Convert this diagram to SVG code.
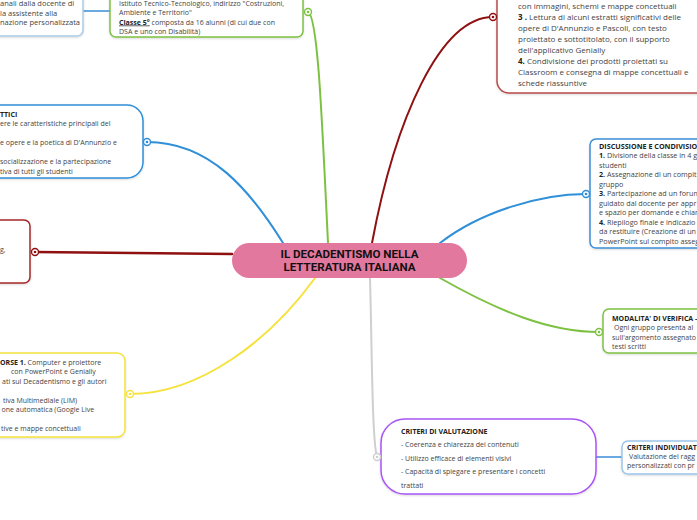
<svg xmlns="http://www.w3.org/2000/svg" width="697" height="520" viewBox="0 0 697 520">
<defs>
<filter id="sh" x="-10%" y="-10%" width="120%" height="130%">
<feDropShadow dx="0" dy="1" stdDeviation="1" flood-color="#000" flood-opacity="0.15"/>
</filter>
</defs>
<style>
.t{font-family:"Open Sans","Noto Sans","DejaVu Sans",sans-serif;font-size:7px;fill:#444}
.b{font-weight:bold;fill:#222}
.box{fill:#fff;stroke-width:1.5;filter:url(#sh)}
.c{fill:none;stroke-linecap:round}
.ring{fill:#fff;stroke-width:1.4}
</style>
<rect width="697" height="520" fill="#fff"/>

<g id="connectors">
<path class="c" d="M83,11 L110,11" stroke="#3a8fd6" stroke-width="1.5"/>
<path class="c" d="M328,243 C322,120 318,16 308,12" stroke="#7dc142" stroke-width="2"/>
<path class="c" d="M372,243 C395,120 440,17 493,17" stroke="#8e1010" stroke-width="2"/>
<path class="c" d="M283,243 C250,190 210,142 147,142" stroke="#2f8fd8" stroke-width="2"/>
<path class="c" d="M440,243 C480,212 540,194 586,194" stroke="#2f8fd8" stroke-width="2"/>
<path class="c" d="M232,254 L35,252" stroke="#8e1010" stroke-width="2.5"/>
<path class="c" d="M315,278 C270,340 200,394 130,394" stroke="#f5e23c" stroke-width="2"/>
<path class="c" d="M440,278 C500,312 550,332 599,332" stroke="#7dc142" stroke-width="2"/>
<path class="c" d="M370,278 C372,350 372,440 377,457" stroke="#cfcfcf" stroke-width="2"/>
<path class="c" d="M596,457 L622,457" stroke="#3a8fd6" stroke-width="1.5"/>
</g>

<g id="node-topleft">
<rect class="box" x="-20" y="-20" width="103" height="56" rx="6" stroke="#a9cbe8"/>
<text class="t" style="font-size:7.5px"><tspan x="0" y="6">anali dalla docente di</tspan><tspan x="0" y="15.5">la assistente alla</tspan><tspan x="0" y="25">nazione personalizzata</tspan></text>
</g>

<g id="node-context">
<rect class="box" x="110" y="-20" width="193" height="57" rx="6" stroke="#7dc142"/>
<text class="t"><tspan x="119" y="5.5">Istituto Tecnico-Tecnologico, indirizzo "Costruzioni,</tspan><tspan x="119" y="15">Ambiente e Territorio"</tspan><tspan x="119" y="24.5"><tspan class="b" text-decoration="underline">Classe 5°</tspan> composta da 16 alunni (di cui due con</tspan><tspan x="119" y="34">DSA e uno con Disabilità)</tspan></text>
<circle class="ring" cx="308" cy="12" r="3.5" stroke="#7dc142"/><circle cx="308" cy="12" r="1.3" fill="#7dc142"/>
</g>

<g id="node-metodologia">
<rect class="box" x="497" y="-20" width="230" height="113" rx="12" stroke="#b94a4a"/>
<text class="t" style="font-size:8px"><tspan x="518" y="8.5">con immagini, schemi e mappe concettuali</tspan><tspan x="518" y="19.5"><tspan class="b">3 .</tspan> Lettura di alcuni estratti significativi delle</tspan><tspan x="518" y="30.5">opere di D'Annunzio e Pascoli, con testo</tspan><tspan x="518" y="41.5">proiettato e sottotitolato, con il supporto</tspan><tspan x="518" y="52.5">dell'applicativo Genially</tspan><tspan x="518" y="63.5"><tspan class="b">4.</tspan> Condivisione dei prodotti proiettati su</tspan><tspan x="518" y="74.5">Classroom e consegna di mappe concettuali e</tspan><tspan x="518" y="85.5">schede riassuntive</tspan></text>
<circle class="ring" cx="493" cy="17" r="3.5" stroke="#8e1010"/><circle cx="493" cy="17" r="1.3" fill="#8e1010"/>
</g>

<g id="node-obiettivi">
<rect class="box" x="-40" y="105" width="183" height="73" rx="16" stroke="#2f8fd8"/>
<text class="t"><tspan x="0" y="116.5" class="b">TTICI</tspan><tspan x="0" y="126">ere le caratteristiche principali del</tspan><tspan x="0" y="145">e opere e la poetica di D'Annunzio e</tspan><tspan x="0" y="164">socializzazione e la partecipazione</tspan><tspan x="0" y="173.5">tiva di tutti gli studenti</tspan></text>
<circle class="ring" cx="147" cy="142" r="3.5" stroke="#2f8fd8"/><circle cx="147" cy="142" r="1.3" fill="#2f8fd8"/>
</g>

<g id="node-discussione">
<rect class="box" x="590" y="139" width="140" height="109" rx="6" stroke="#3a8fd6"/>
<text class="t" style="font-size:7.2px"><tspan x="599" y="148.5" class="b">DISCUSSIONE E CONDIVISIO</tspan><tspan x="599" y="158"><tspan class="b">1.</tspan> Divisione della classe in 4 g</tspan><tspan x="599" y="167.5">studenti</tspan><tspan x="599" y="177"><tspan class="b">2.</tspan> Assegnazione di un compit</tspan><tspan x="599" y="186.5">gruppo</tspan><tspan x="599" y="196"><tspan class="b">3.</tspan> Partecipazione ad un forum</tspan><tspan x="599" y="205.5">guidato dal docente per appr</tspan><tspan x="599" y="215">e spazio per domande e chiar</tspan><tspan x="599" y="224.5"><tspan class="b">4.</tspan> Riepilogo finale e indicazio</tspan><tspan x="599" y="234">da restituire (Creazione di un</tspan><tspan x="599" y="243.5">PowerPoint sul compito asseg</tspan></text>
<circle class="ring" cx="586" cy="194" r="3.5" stroke="#2f8fd8"/><circle cx="586" cy="194" r="1.3" fill="#2f8fd8"/>
</g>

<g id="node-darkred">
<rect class="box" x="-20" y="220" width="50" height="63" rx="6" stroke="#a52828"/>
<text class="t"><tspan x="0" y="251.5">g,</tspan></text>
<circle class="ring" cx="35" cy="252" r="3.5" stroke="#8e1010"/><circle cx="35" cy="252" r="1.3" fill="#8e1010"/>
</g>

<g id="node-center">
<rect x="232" y="243" width="235" height="35" rx="17.5" fill="#e3789f"/>
<text font-family="Roboto,'Liberation Sans',sans-serif" font-weight="bold" font-size="10.5" fill="#111" text-anchor="middle"><tspan x="349.5" y="257.5" textLength="138" lengthAdjust="spacingAndGlyphs">IL DECADENTISMO NELLA</tspan><tspan x="349.5" y="270.5" textLength="132" lengthAdjust="spacingAndGlyphs">LETTERATURA ITALIANA</tspan></text>
</g>

<g id="node-risorse">
<rect class="box" x="-40" y="353" width="165" height="84" rx="8" stroke="#f5e23c"/>
<text class="t"><tspan x="0" y="364.5"><tspan class="b">ORSE 1.</tspan> Computer e proiettore</tspan><tspan x="11" y="374">con PowerPoint e Genially</tspan><tspan x="2" y="383.5">ati sul Decadentismo e gli autori</tspan><tspan x="3" y="402.5">tiva Multimediale (LIM)</tspan><tspan x="1.5" y="412">one automatica (Google Live</tspan><tspan x="1" y="431">tive e mappe concettuali</tspan></text>
<circle class="ring" cx="130" cy="394" r="3.5" stroke="#f5e23c"/><circle cx="130" cy="394" r="1.3" fill="#f5e23c"/>
</g>

<g id="node-verifica">
<rect class="box" x="603" y="309" width="120" height="44" rx="6" stroke="#7dc142"/>
<text class="t"><tspan x="612" y="320.5" class="b">MODALITA' DI VERIFICA -</tspan><tspan x="614" y="330">Ogni gruppo presenta al</tspan><tspan x="612" y="339.5">sull'argomento assegnato</tspan><tspan x="612" y="349">testi scritti</tspan></text>
<circle class="ring" cx="599" cy="332" r="3.5" stroke="#7dc142"/><circle cx="599" cy="332" r="1.3" fill="#7dc142"/>
</g>

<g id="node-criteri">
<rect class="box" x="381" y="419" width="215" height="75" rx="24" stroke="#a855f7"/>
<text class="t"><tspan x="401" y="433.5" class="b">CRITERI DI VALUTAZIONE</tspan><tspan x="401" y="447">- Coerenza e chiarezza dei contenuti</tspan><tspan x="401" y="460.5">- Utilizzo efficace di elementi visivi</tspan><tspan x="401" y="474">- Capacità di spiegare e presentare i concetti</tspan><tspan x="401" y="488">trattati</tspan></text>
<circle class="ring" cx="377" cy="457" r="3.5" stroke="#cfcfcf"/><circle cx="377" cy="457" r="1.3" fill="#cfcfcf"/>
</g>

<g id="node-individuati">
<rect class="box" x="622" y="441" width="110" height="33" rx="6" stroke="#9cc5ea"/>
<text class="t"><tspan x="627" y="450" class="b">CRITERI INDIVIDUATI</tspan><tspan x="629" y="459">Valutazione del ragg</tspan><tspan x="627" y="468">personalizzati con pr</tspan></text>
</g>
</svg>
